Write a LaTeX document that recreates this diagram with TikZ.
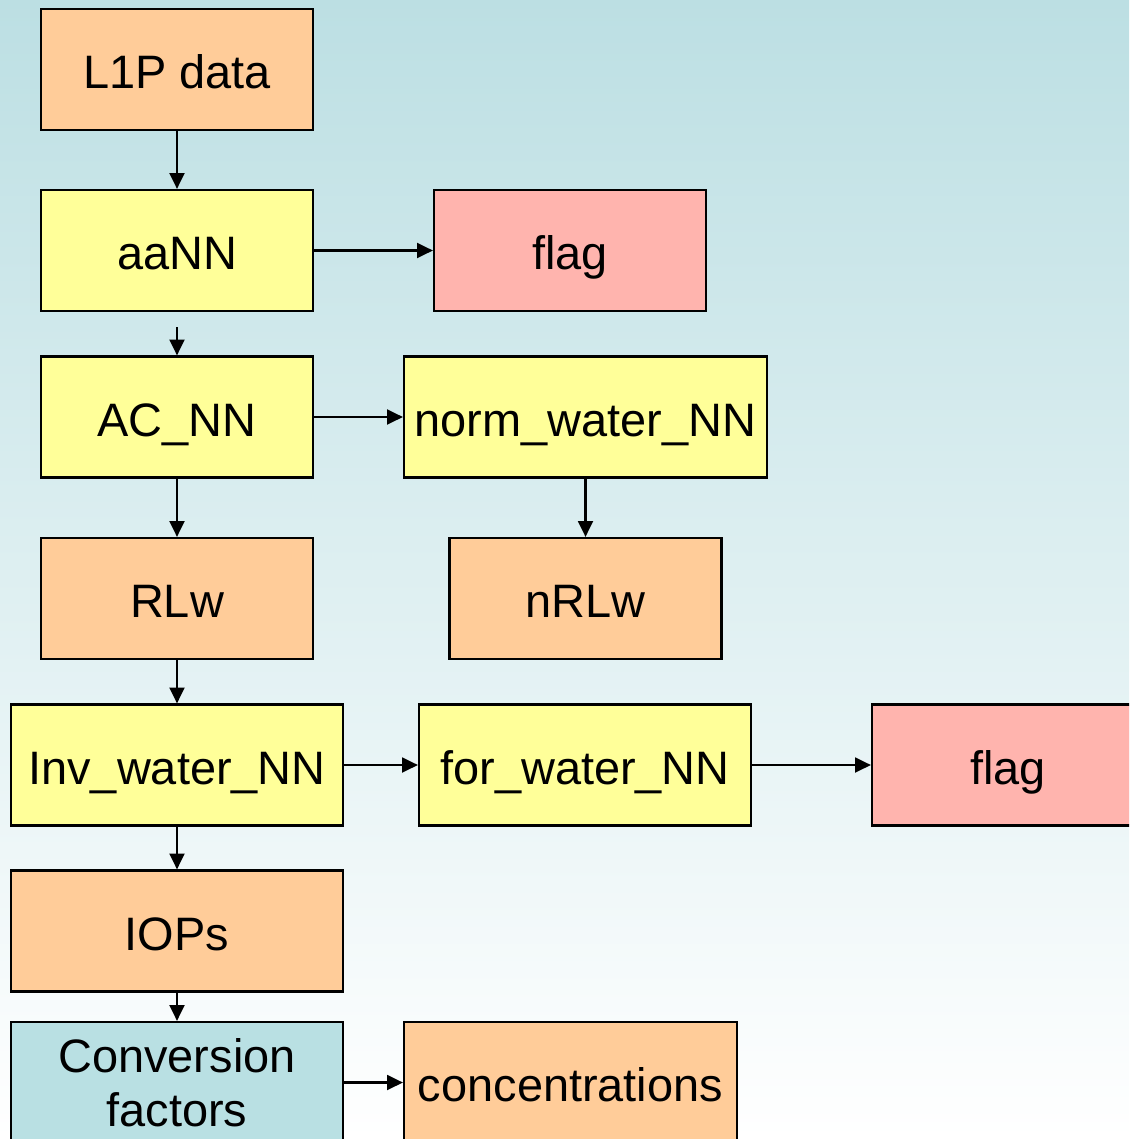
\documentclass[tikz,border=0pt]{standalone}
\usepackage{fontspec}
\setmainfont{Liberation Sans}
\usepackage{tikz}
\usetikzlibrary{arrows.meta, positioning}
\definecolor{peach}{RGB}{255,204,153}
\definecolor{lemon}{RGB}{255,255,153}
\definecolor{rose}{RGB}{255,180,174}
\definecolor{aqua}{RGB}{185,224,227}
\definecolor{bgtop}{RGB}{188,223,227}
\tikzset{font=\fontsize{26.7}{31}\selectfont}
\tikzset{box/.style={rectangle, draw=black, line width=1.3pt, inner sep=0pt,
  minimum width=5.44cm, minimum height=2.42cm, align=center,
  text height=27pt, text depth=5pt}}
\tikzset{data/.style={box, fill=peach}}
\tikzset{net/.style={box, fill=lemon}}
\tikzset{flagbox/.style={box, fill=rose}}
\tikzset{conv/.style={box, fill=aqua, text height=, text depth=}}
\tikzset{wide/.style={minimum width=6.64cm}}
\tikzset{link/.style={line width=1.2pt, -{Triangle[length=9pt,width=8.5pt]}}}

\begin{document}
\begin{tikzpicture}[x=0.02cm, y=-0.02cm]
  \useasboundingbox (0,0) rectangle (1129,1139);
  \clip (0,0) rectangle (1129,1139);
  \shade[top color=bgtop, bottom color=white] (0,0) rectangle (1129,1139);
  %Nodes
  \node[data] (l1p) at (177,69.5) {L1P data};
  \node[net] (aann) at (177,250.5) {aaNN};
  \node[flagbox] (flaga) at (570,250.5) {flag};
  \node[net] (acnn) at (177,417) {AC\_NN};
  \node[net, minimum width=7.26cm] (norm) at (585.5,417) {norm\_water\_NN};
  \node[data] (rlw) at (177,598.5) {RLw};
  \node[data] (nrlw) at (585.5,598.5) {nRLw};
  \node[net, wide] (inv) at (177,765) {Inv\_water\_NN};
  \node[net, wide] (forw) at (585,765) {for\_water\_NN};
  \node[flagbox] (flagb) at (1008,765) {flag};
  \node[data, wide] (iops) at (177,931) {IOPs};
  \node[conv, wide] (cf) at (177,1082.5) {Conversion\\factors};
  \node[data, minimum width=6.66cm] (conc) at (570.5,1082.5) {concentrations};
  \coordinate (gap) at (177,327);
  % Edges
  \draw[link] (l1p) -- (aann);
  \draw[link] (aann) -- (flaga);
  \draw[link] (gap) -- (acnn.north);
  \draw[link] (acnn) -- (norm);
  \draw[link] (norm.south) -- (nrlw.north);
  \draw[link] (acnn) -- (rlw);
  \draw[link] (rlw) -- (inv);
  \draw[link] (inv) -- (forw);
  \draw[link] (forw) -- (flagb);
  \draw[link] (inv) -- (iops);
  \draw[link] (iops) -- (cf);
  \draw[link] (cf) -- (conc);
\end{tikzpicture}
\end{document}
